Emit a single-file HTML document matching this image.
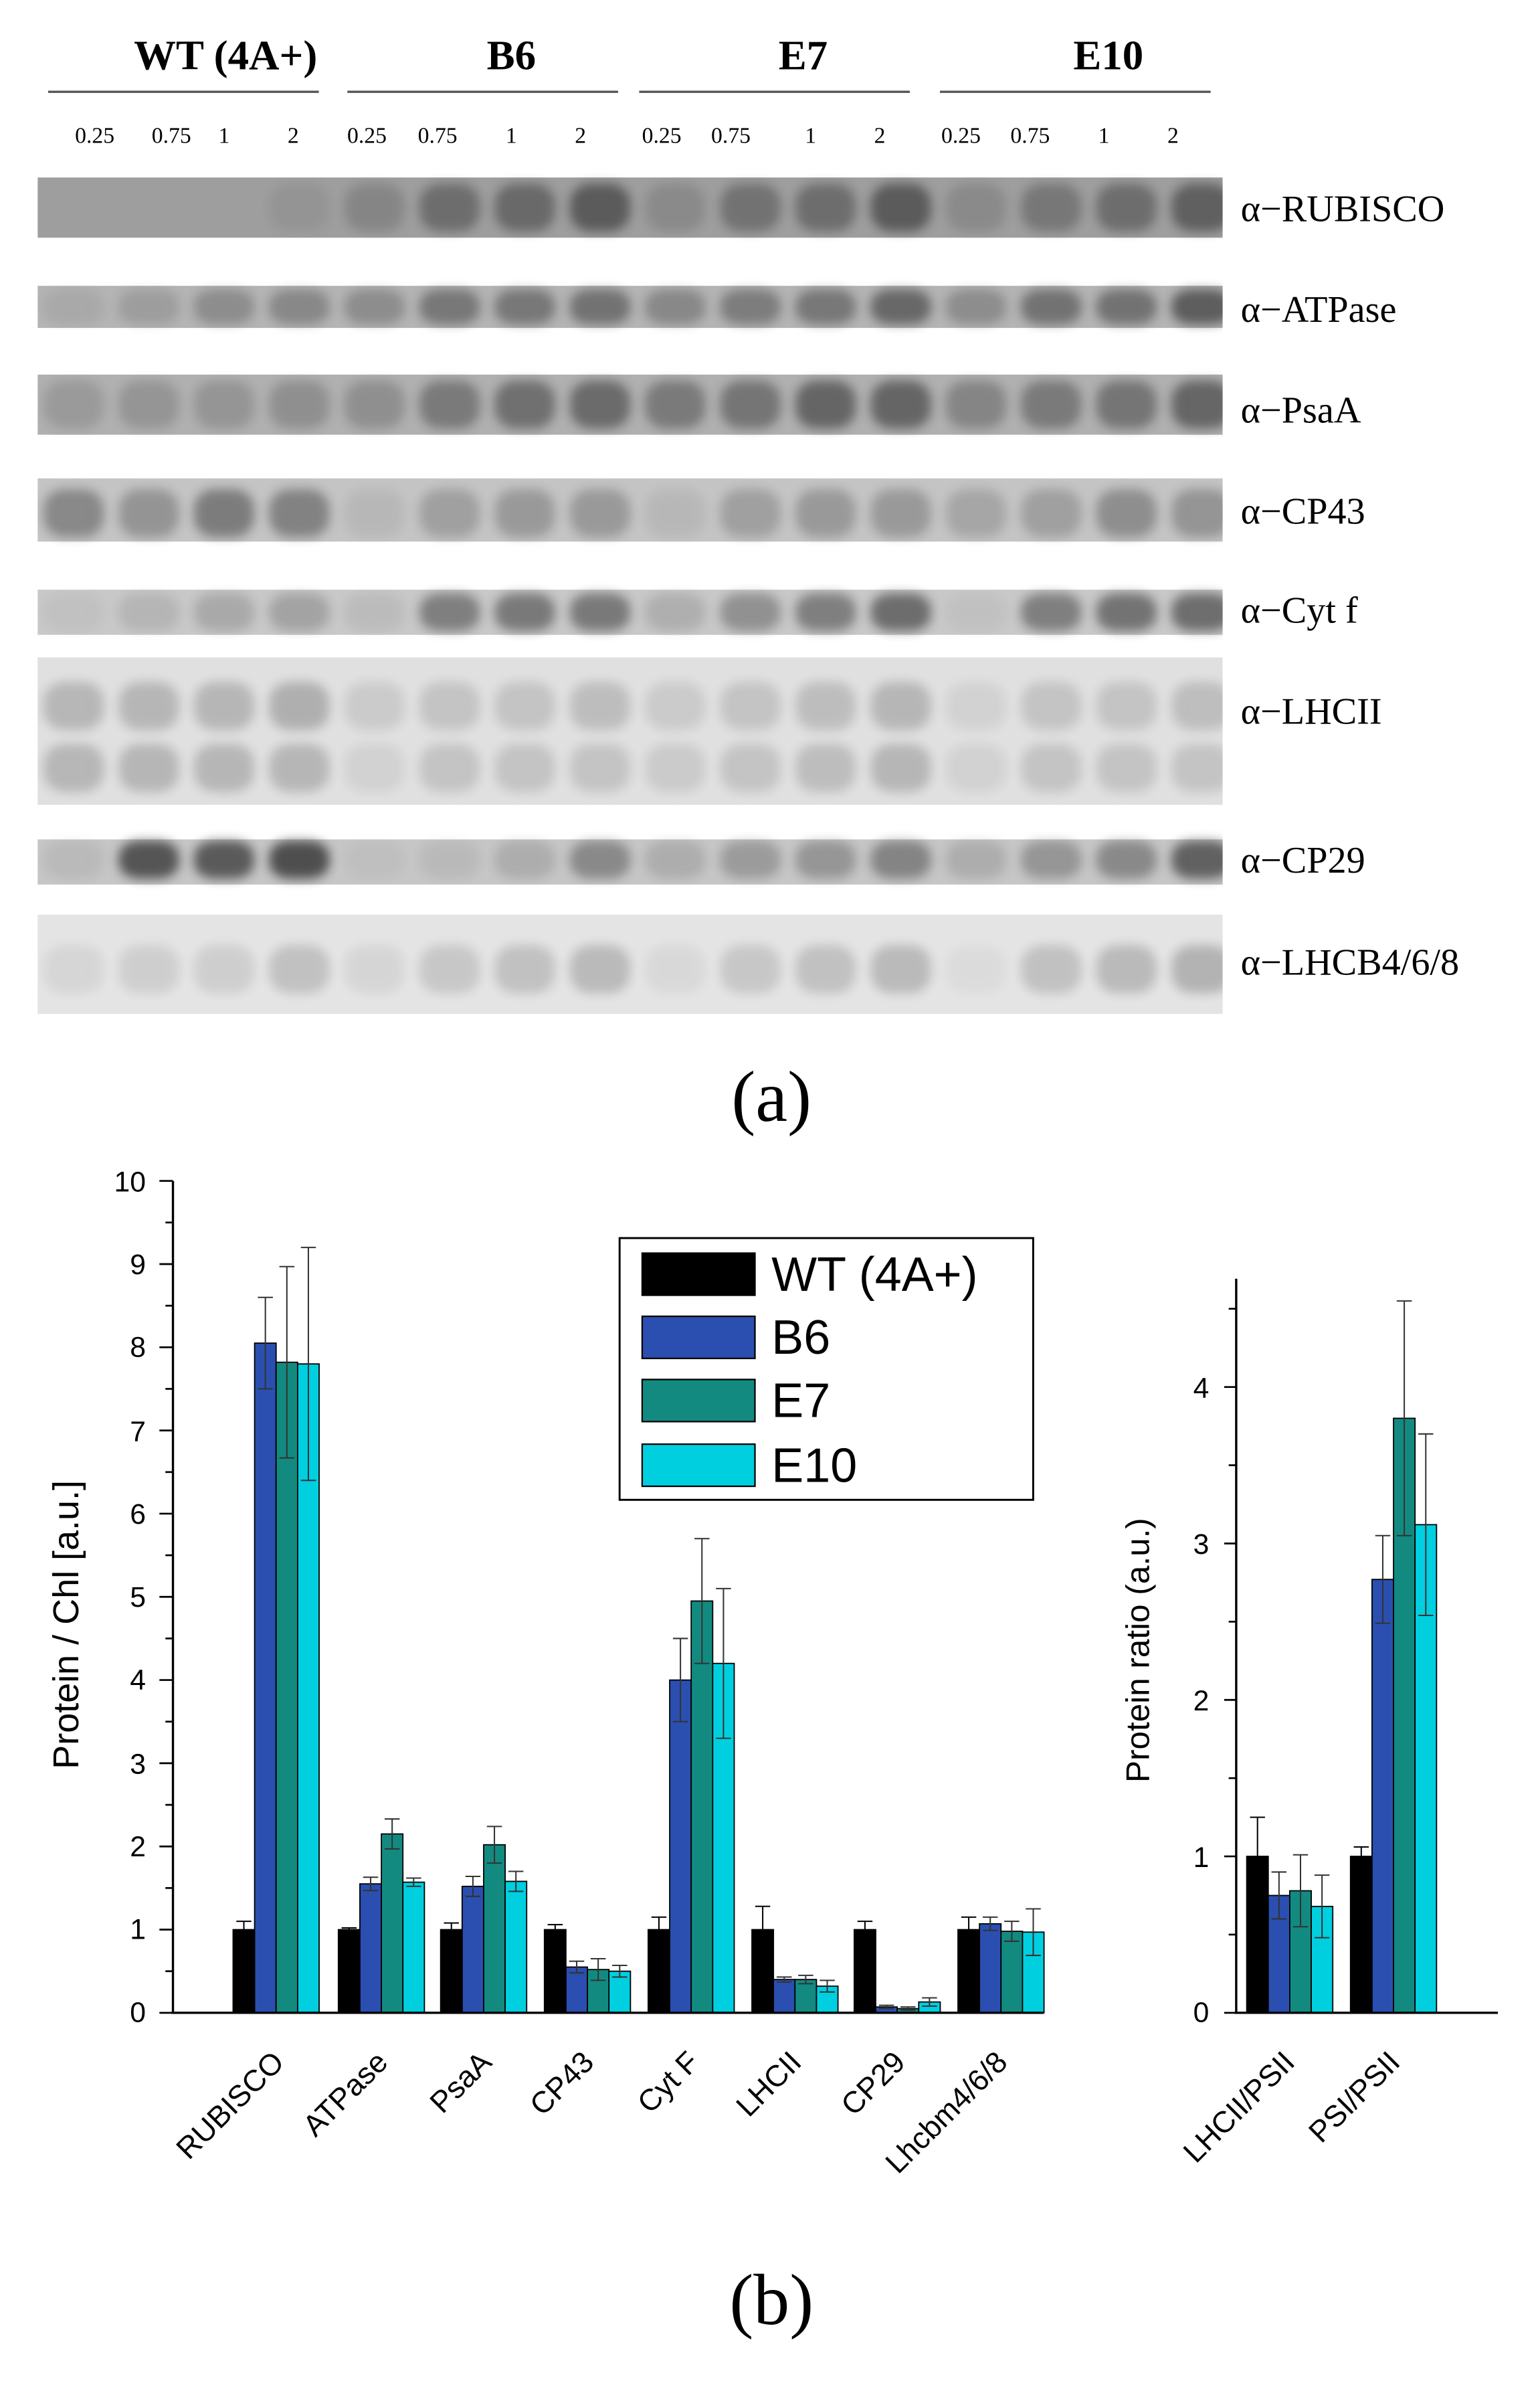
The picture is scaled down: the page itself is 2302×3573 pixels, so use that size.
<!DOCTYPE html>
<html><head><meta charset="utf-8"><style>
html,body{margin:0;padding:0;background:#fff}
svg{display:block}
.s{font-family:"Liberation Serif",serif}
.a{font-family:"Liberation Sans",sans-serif}
</style></head><body>
<svg id="c" width="2302" height="3573" viewBox="0 0 1024 1589.4" preserveAspectRatio="none" xmlns="http://www.w3.org/2000/svg">
<defs>
<filter id="bl" x="-50%" y="-50%" width="200%" height="200%"><feGaussianBlur stdDeviation="3.5"/></filter>
<clipPath id="cp"><rect x="25" y="0" width="788" height="700"/></clipPath>
</defs>
<g class="s" font-weight="bold" font-size="28" text-anchor="middle">
<text x="150" y="46">WT (4A+)</text><text x="340" y="46">B6</text><text x="534" y="46">E7</text><text x="737" y="46">E10</text>
</g>
<g stroke="#555" stroke-width="1.5">
<line x1="32" y1="61" x2="212" y2="61"/><line x1="231" y1="61" x2="411" y2="61"/><line x1="425" y1="61" x2="605" y2="61"/><line x1="625" y1="61" x2="805" y2="61"/>
</g>
<g class="s" font-size="15" text-anchor="middle">
<text x="63" y="95">0.25</text><text x="114" y="95">0.75</text><text x="149" y="95">1</text><text x="195" y="95">2</text>
<text x="244" y="95">0.25</text><text x="291" y="95">0.75</text><text x="340" y="95">1</text><text x="386" y="95">2</text>
<text x="440" y="95">0.25</text><text x="486" y="95">0.75</text><text x="539" y="95">1</text><text x="585" y="95">2</text>
<text x="639" y="95">0.25</text><text x="685" y="95">0.75</text><text x="734" y="95">1</text><text x="780" y="95">2</text>
</g>
<g id="blots" clip-path="url(#cp)"></g>
<g class="s" font-size="25">
<text x="825" y="147">α−RUBISCO</text><text x="825" y="214">α−ATPase</text><text x="825" y="281">α−PsaA</text>
<text x="825" y="348">α−CP43</text><text x="825" y="414">α−Cyt f</text><text x="825" y="481">α−LHCII</text>
<text x="825" y="580">α−CP29</text><text x="825" y="648">α−LHCB4/6/8</text>
</g>
<text class="s" x="513" y="745" font-size="48" text-anchor="middle">(a)</text>

<g id="bars"></g>
<g stroke="#000" stroke-width="1.5" fill="none">
<line x1="115" y1="785" x2="115" y2="1338"/><line x1="114" y1="1338" x2="694" y2="1338"/>
<line x1="822" y1="850" x2="822" y2="1338"/><line x1="821" y1="1338" x2="996" y2="1338"/>
</g>
<g id="ticks" stroke="#000" stroke-width="1.2"></g>
<g class="a" font-size="19" text-anchor="end">
<text x="97" y="792">10</text><text x="97" y="847">9</text><text x="97" y="902">8</text><text x="97" y="958">7</text><text x="97" y="1013">6</text><text x="97" y="1068">5</text><text x="97" y="1123">4</text><text x="97" y="1179">3</text><text x="97" y="1234">2</text><text x="97" y="1289">1</text><text x="97" y="1344">0</text>
<text x="804" y="929">4</text><text x="804" y="1033">3</text><text x="804" y="1137">2</text><text x="804" y="1241">1</text><text x="804" y="1344">0</text>
</g>
<text class="a" font-size="24" text-anchor="middle" transform="translate(52,1080) rotate(-90)">Protein / Chl [a.u.]</text>
<text class="a" font-size="22" text-anchor="middle" transform="translate(764,1097) rotate(-90)">Protein ratio (a.u.)</text>
<g class="a" font-size="20" text-anchor="end">
<text transform="translate(190,1372) rotate(-45)">RUBISCO</text>
<text transform="translate(259,1372) rotate(-45)">ATPase</text>
<text transform="translate(328,1372) rotate(-45)">PsaA</text>
<text transform="translate(396,1372) rotate(-45)">CP43</text>
<text transform="translate(466,1372) rotate(-45)">Cyt F</text>
<text transform="translate(534,1372) rotate(-45)">LHCII</text>
<text transform="translate(603,1372) rotate(-45)">CP29</text>
<text transform="translate(671,1372) rotate(-45)">Lhcbm4/6/8</text>
<text transform="translate(862,1372) rotate(-45)">LHCII/PSII</text>
<text transform="translate(932,1372) rotate(-45)">PSI/PSII</text>
</g>
<rect x="412" y="823" width="275" height="174" fill="#fff" stroke="#000" stroke-width="1.3"/>
<g stroke="#000" stroke-width="1">
<rect x="427" y="833" width="75" height="28" fill="#000"/>
<rect x="427" y="875" width="75" height="28" fill="#2a4fb0"/>
<rect x="427" y="917" width="75" height="28" fill="#138a80"/>
<rect x="427" y="960" width="75" height="28" fill="#00cfe0"/>
</g>
<g class="a" font-size="32">
<text x="513" y="858">WT (4A+)</text><text x="513" y="900">B6</text><text x="513" y="942">E7</text><text x="513" y="985">E10</text>
</g>
<text class="s" x="513" y="1545" font-size="48" text-anchor="middle">(b)</text>
</svg>
<script>
var NS="http://www.w3.org/2000/svg";
function el(p,t,a){var e=document.createElementNS(NS,t);for(var k in a)e.setAttribute(k,a[k]);p.appendChild(e);return e;}
var B=document.getElementById("blots");
var lanes=[];for(var i=0;i<16;i++)lanes.push(49+50*i);
var strips=[
 {y:118,h:40,bg:"#9e9e9e",rows:[[0.5,[0,0,0,0.1,0.25,0.5,0.55,0.7,0.2,0.45,0.5,0.7,0.2,0.4,0.5,0.65]]]},
 {y:190,h:28,bg:"#b4b4b4",rows:[[0.5,[0.1,0.2,0.35,0.4,0.35,0.55,0.55,0.6,0.4,0.5,0.55,0.7,0.35,0.6,0.6,0.8]]]},
 {y:249,h:40,bg:"#b0b0b0",rows:[[0.5,[0.2,0.25,0.25,0.3,0.3,0.5,0.6,0.65,0.5,0.55,0.7,0.7,0.4,0.5,0.55,0.7]]]},
 {y:318,h:42,bg:"#c4c4c4",rows:[[0.55,[0.5,0.4,0.6,0.55,0.1,0.3,0.35,0.35,0.1,0.3,0.35,0.35,0.25,0.3,0.45,0.4]]]},
 {y:392,h:30,bg:"#c8c8c8",rows:[[0.5,[0.05,0.15,0.25,0.3,0.1,0.6,0.65,0.65,0.2,0.45,0.6,0.75,0.05,0.6,0.7,0.75]]]},
 {y:437,h:98,bg:"#e0e0e0",rows:[[0.33,[0.3,0.3,0.3,0.35,0.15,0.2,0.2,0.25,0.15,0.2,0.25,0.3,0.1,0.2,0.2,0.25]],[0.75,[0.3,0.3,0.3,0.3,0.1,0.2,0.2,0.2,0.15,0.2,0.25,0.3,0.1,0.2,0.2,0.2]]]},
 {y:558,h:30,bg:"#c6c6c6",rows:[[0.45,[0.1,0.95,0.9,1,0.05,0.1,0.2,0.5,0.2,0.35,0.4,0.55,0.2,0.4,0.5,0.85]]]},
 {y:608,h:66,bg:"#e4e4e4",rows:[[0.55,[0.1,0.15,0.15,0.25,0.1,0.2,0.25,0.3,0.08,0.2,0.25,0.3,0.05,0.25,0.3,0.35]]]}
];
strips.forEach(function(s){
 el(B,"rect",{x:25,y:s.y,width:788,height:s.h,fill:s.bg});
 s.rows.forEach(function(r){
  r[1].forEach(function(v,i){
   var ry=Math.min(s.h*0.42,16);
   el(B,"rect",{x:lanes[i]-20,y:s.y+s.h*r[0]-ry,width:40,height:2*ry,rx:14,ry:ry*0.8,fill:"#000",opacity:v*0.6,filter:"url(#bl)"});
  });
 });
});
var G=document.getElementById("bars");
var cols=["#000","#2a4fb0","#138a80","#00cfe0"];
function chart(y0,sc,starts,vals,errs){
 starts.forEach(function(x,g){
  for(var k=0;k<4;k++){
   var v=vals[g][k],e=errs[g][k],bx=x+k*14.3,yt=y0-v*sc;
   el(G,"rect",{x:bx,y:yt,width:14.3,height:v*sc,fill:cols[k],stroke:"#000","stroke-width":0.8});
   var cx=bx+7.15,st=k==0?"#000":"#333";
   el(G,"line",{x1:cx,x2:cx,y1:yt-e*sc,y2:yt+e*sc,stroke:st,"stroke-width":0.9});
   el(G,"line",{x1:cx-5,x2:cx+5,y1:yt-e*sc,y2:yt-e*sc,stroke:st,"stroke-width":0.9});
   el(G,"line",{x1:cx-5,x2:cx+5,y1:yt+e*sc,y2:yt+e*sc,stroke:st,"stroke-width":0.9});
  }
 });
}
chart(1338,55.3,[155,225,293,362,431,500,568,637],
 [[1,8.05,7.82,7.8],[1,1.55,2.15,1.57],[1,1.52,2.02,1.58],[1,0.55,0.52,0.5],[1,4,4.95,4.2],[1,0.4,0.4,0.32],[1,0.07,0.05,0.13],[1,1.07,0.98,0.97]],
 [[0.1,0.55,1.15,1.4],[0.02,0.08,0.18,0.05],[0.08,0.12,0.22,0.12],[0.06,0.07,0.13,0.07],[0.15,0.5,0.75,0.9],[0.28,0.03,0.05,0.07],[0.1,0.02,0.02,0.05],[0.15,0.08,0.12,0.28]]);
chart(1338,104,[829,898],[[1,0.75,0.78,0.68],[1,2.77,3.8,3.12]],[[0.25,0.15,0.23,0.2],[0.06,0.28,0.75,0.58]]);
var T=document.getElementById("ticks");
for(var i=0;i<=20;i++){var y=1338-i*27.65;el(T,"line",{x1:115,x2:i%2?110:106,y1:y,y2:y});}
for(var i=0;i<=9;i++){var y=1338-i*52;el(T,"line",{x1:822,x2:i%2?817:814,y1:y,y2:y});}
</script>
</body></html>
